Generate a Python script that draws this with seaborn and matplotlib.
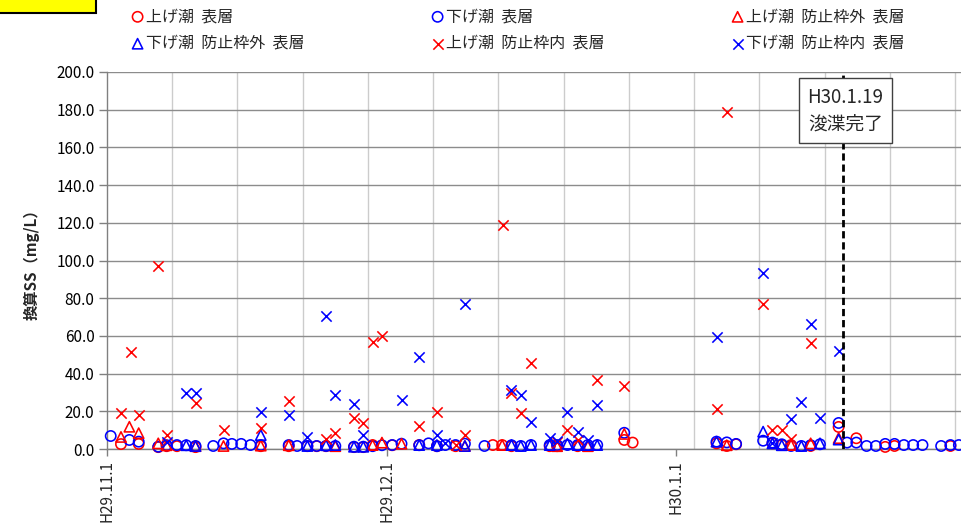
import numpy as np
import pandas as pd
import matplotlib
matplotlib.use("Agg")
import matplotlib.pyplot as plt
from matplotlib.patches import Rectangle
from matplotlib.ticker import FixedLocator, FixedFormatter, MultipleLocator, FuncFormatter
import matplotlib.dates as mdates
import seaborn as sns

# ---------------- data (days after 2017-11-01 incl. sampling time, values in mg/L) ----------------
BASE_DATE = "2017-11-01"

up_surface_days = [1.5, 3.4, 5.5, 6.4, 7.5, 9.5, 16.5, 19.5, 21.5, 22.5, 23.5, 26.5, 27.5, 28.5,
                   30.6, 33.5, 35.4, 37.4, 41.4, 42.4, 43.4, 47.5, 48.3, 50.5, 55.5, 56.4, 65.4,
                   66.5, 67.5, 71.4, 72.4, 73.4, 75.5, 78.5, 80.4, 83.5, 84.5, 90.5]
up_surface_vals = [2.6, 2.7, 1.0, 1.5, 1.5, 1.0, 1.5, 1.5, 1.5, 1.5, 1.5, 1.0, 1.0, 2.1,
                   2.0, 2.1, 1.5, 1.5, 2.1, 2.1, 1.5, 1.5, 1.5, 1.5, 4.8, 3.4, 3.0,
                   1.6, 2.5, 3.0, 2.1, 2.1, 1.6, 11.7, 5.7, 1.1, 1.6, 1.6]

down_surface_days = [0.4, 2.4, 3.4, 5.5, 6.4, 7.5, 8.5, 9.5, 11.4, 12.5, 13.4, 14.4, 15.4, 16.5,
                     19.5, 20.4, 21.5, 22.5, 23.5, 24.5, 26.5, 27.5, 28.5, 29.5, 30.6, 31.6,
                     33.5, 34.5, 35.4, 36.3, 37.4, 38.4, 40.5, 43.4, 44.4, 45.5, 47.5, 48.3,
                     49.4, 50.5, 51.6, 52.6, 55.5, 65.4, 66.5, 67.5, 70.4, 71.4, 72.4, 73.4,
                     74.5, 75.5, 76.5, 78.5, 79.4, 80.4, 81.5, 82.5, 83.5, 84.5, 85.5, 86.5,
                     87.5, 89.5, 90.5, 91.4]
down_surface_vals = [6.9, 4.8, 3.9, 1.2, 2.0, 2.1, 2.0, 1.6, 1.6, 3.0, 2.7, 2.7, 2.1, 2.1,
                     2.1, 1.6, 1.6, 1.6, 1.6, 1.6, 1.2, 1.2, 1.5, 2.0, 2.1, 2.8,
                     2.0, 3.0, 1.5, 2.1, 2.1, 2.8, 1.6, 2.0, 1.6, 2.1, 2.1, 2.1,
                     2.1, 2.1, 2.1, 2.1, 8.6, 3.9, 3.5, 2.7, 4.4, 3.4, 2.5, 1.6,
                     1.6, 2.0, 2.5, 13.8, 3.4, 3.4, 1.6, 1.6, 2.7, 2.7, 2.1, 2.1,
                     2.1, 1.6, 2.1, 2.1]

up_outside_days = [1.5, 2.4, 3.4, 5.5, 6.4, 9.5, 12.5, 16.5, 19.5, 24.5, 28.5, 29.5, 31.6,
                   38.4, 42.4, 48.3, 51.6, 55.5, 66.5, 73.4, 75.5, 78.5]
up_outside_vals = [6.4, 11.8, 8.4, 3.0, 2.0, 1.5, 1.6, 1.8, 2.0, 1.5, 2.1, 3.4, 2.8,
                   1.6, 2.1, 1.5, 1.5, 8.0, 2.0, 2.1, 3.0, 5.8]

down_outside_days = [8.5, 9.5, 16.5, 21.5, 23.5, 24.5, 26.5, 27.5, 33.5, 35.4, 38.4, 43.4, 44.4,
                     45.5, 47.5, 49.4, 50.5, 51.6, 52.6, 65.4, 70.4, 71.4, 72.4, 74.5, 76.5, 78.5]
down_outside_vals = [2.0, 1.6, 7.4, 1.6, 2.0, 2.1, 1.2, 1.2, 2.1, 2.1, 1.6, 2.1, 1.6,
                     2.1, 2.1, 2.8, 2.1, 2.1, 2.1, 3.9, 9.2, 3.0, 2.0, 1.6, 3.0, 5.0]

up_inside_days = [1.5, 2.6, 3.4, 5.5, 6.4, 9.5, 12.5, 16.5, 19.5, 23.5, 24.5, 26.5, 27.5, 28.5,
                  29.5, 33.5, 35.4, 37.4, 38.4, 42.5, 43.4, 44.4, 45.5, 48.3, 49.4, 50.5, 52.6,
                  55.5, 65.4, 66.5, 70.4, 71.4, 72.4, 73.4, 75.5]
up_inside_vals = [18.9, 51.5, 18.2, 97.0, 7.4, 24.6, 10.1, 11.0, 25.6, 5.1, 8.6, 16.3, 13.6, 56.8,
                  60.0, 12.2, 19.8, 2.1, 7.4, 118.8, 29.7, 19.3, 45.6, 3.9, 10.1, 4.8, 36.6,
                  33.4, 21.0, 178.8, 76.9, 10.1, 10.1, 5.1, 56.2]

down_inside_days = [6.4, 8.5, 9.5, 16.5, 19.5, 21.5, 23.5, 24.5, 26.5, 27.5, 31.6, 33.5, 35.4,
                    36.3, 38.4, 43.4, 44.4, 45.5, 47.5, 48.3, 49.4, 50.5, 51.6, 52.6, 65.4,
                    70.4, 71.4, 73.4, 74.5, 75.5, 76.5, 78.5]
down_inside_vals = [3.9, 29.5, 29.5, 19.8, 18.0, 6.5, 70.6, 28.6, 23.9, 7.4, 26.0, 48.8, 7.4,
                    3.0, 77.0, 31.3, 28.6, 14.5, 5.7, 4.5, 19.8, 9.2, 4.8, 23.3, 59.4,
                    93.4, 3.4, 15.7, 25.1, 66.3, 16.3, 52.0]

series_labels = ["上げ潮  表層", "下げ潮  表層", "上げ潮  防止枠外  表層",
                 "下げ潮  防止枠外  表層", "上げ潮  防止枠内  表層", "下げ潮  防止枠内  表層"]

month_ticks = ["2017-11-01", "2017-12-01", "2018-01-01"]
month_labels = ["H29.11.1", "H29.12.1", "H30.1.1"]
completion_date = "2018-01-19"
completion_text = "H30.1.19\n浚渫完了"
y_label = "換算SS（mg/L）"

# ---------------- styling ----------------
RED = "#ff0000"
BLUE = "#0000ff"
series = [
    (up_surface_days, up_surface_vals, "o", RED),
    (down_surface_days, down_surface_vals, "o", BLUE),
    (up_outside_days, up_outside_vals, "^", RED),
    (down_outside_days, down_outside_vals, "^", BLUE),
    (up_inside_days, up_inside_vals, "x", RED),
    (down_inside_days, down_inside_vals, "x", BLUE),
]

sns.set_theme(style="white")
plt.rcParams["font.family"] = ["Noto Sans CJK JP", "DejaVu Sans"]

W, H = 961, 528
fig = plt.figure(figsize=(W / 100, H / 100), dpi=100)
ax_left, ax_right, ax_top, ax_bottom = 107, 961, 72, 449
ax = fig.add_axes([ax_left / W, 1 - ax_bottom / H, (ax_right - ax_left) / W, (ax_bottom - ax_top) / H])

base = pd.Timestamp(BASE_DATE)
for (days, vals, marker, color), label in zip(series, series_labels):
    df = pd.DataFrame({"date": base + pd.to_timedelta(days, unit="D"), "value": vals})
    if marker == "x":
        sns.scatterplot(data=df, x="date", y="value", marker=marker, color=color,
                        edgecolor=None, s=55, linewidth=1.15, legend=False, label=label,
                        ax=ax, zorder=3)
    else:
        sns.scatterplot(data=df, x="date", y="value", marker=marker, color=color,
                        facecolors="none", edgecolor=color, s=55, linewidth=1.15,
                        legend=False, label=label, ax=ax, zorder=3)
    ax.collections[-1].set_clip_on(False)

# axes limits
days_span = (ax_right - ax_left) / 9.32
ax.set_xlim(base, base + pd.Timedelta(days=days_span))
ax.set_ylim(0, 200)

# y axis
ax.yaxis.set_major_locator(MultipleLocator(20))
ax.yaxis.set_major_formatter(FuncFormatter(lambda v, p: f"{v:.1f}"))
ax.tick_params(axis="y", which="major", direction="out", length=6, width=1,
               color="#808080", labelsize=11, pad=3, labelcolor="black", left=True)
ax.set_ylabel(y_label, fontsize=11, fontweight="bold", labelpad=12)

# x axis
xt = [mdates.date2num(pd.Timestamp(d)) for d in month_ticks]
ax.xaxis.set_major_locator(FixedLocator(xt))
ax.xaxis.set_major_formatter(FixedFormatter(month_labels))
weekly = [mdates.date2num(base + pd.Timedelta(days=7 * k)) for k in range(0, 14)]
ax.xaxis.set_minor_locator(FixedLocator(weekly))
ax.tick_params(axis="x", which="major", direction="out", length=5, width=1,
               color="#808080", labelsize=11, labelrotation=90, pad=3, bottom=True)
ax.tick_params(axis="x", which="minor", length=0)
ax.set_xlabel("")

# grid
ax.grid(False)
ax.yaxis.grid(True, which="major", color="#8c8c8c", linewidth=1, zorder=0)
ax.xaxis.grid(True, which="minor", color="#cccccc", linewidth=1, zorder=0)
ax.set_axisbelow(True)
for side in ["top", "right"]:
    ax.spines[side].set_visible(False)
for side in ["left", "bottom"]:
    ax.spines[side].set_color("#808080")
    ax.spines[side].set_linewidth(1)

# completion line and annotation
cdate = pd.Timestamp(completion_date)
ax.axvline(cdate, color="black", linestyle=(0, (2.6, 1.4)), linewidth=2, zorder=4)
ax.text(cdate + pd.Timedelta(hours=6), 179.6, completion_text, ha="center", va="center",
        fontsize=13.5, linespacing=1.35, zorder=6,
        bbox=dict(boxstyle="square,pad=0.45", facecolor="white", edgecolor="#404040", linewidth=1))

# legend in three columns
handles, labels = ax.get_legend_handles_labels()
columns = [(0, 3, 132), (1, 4, 432), (2, 5, 732)]
for i1, i2, xpx in columns:
    leg = fig.legend([handles[i1], handles[i2]], [labels[i1], labels[i2]],
                     loc="upper left", bbox_to_anchor=(xpx / W, 1 - 8 / H),
                     frameon=False, fontsize=11.5, handlelength=0.7, handletextpad=0.2,
                     labelspacing=0.62, borderpad=0, borderaxespad=0, scatterpoints=1)

# yellow title box (cut off at the top-left)
fig.add_artist(Rectangle((-0.01, 1 - 13 / H), 96 / W + 0.01, 0.05, transform=fig.transFigure,
                         facecolor="#ffff00", edgecolor="black", linewidth=1.5, clip_on=False))

fig.savefig("out.png", dpi=100)
